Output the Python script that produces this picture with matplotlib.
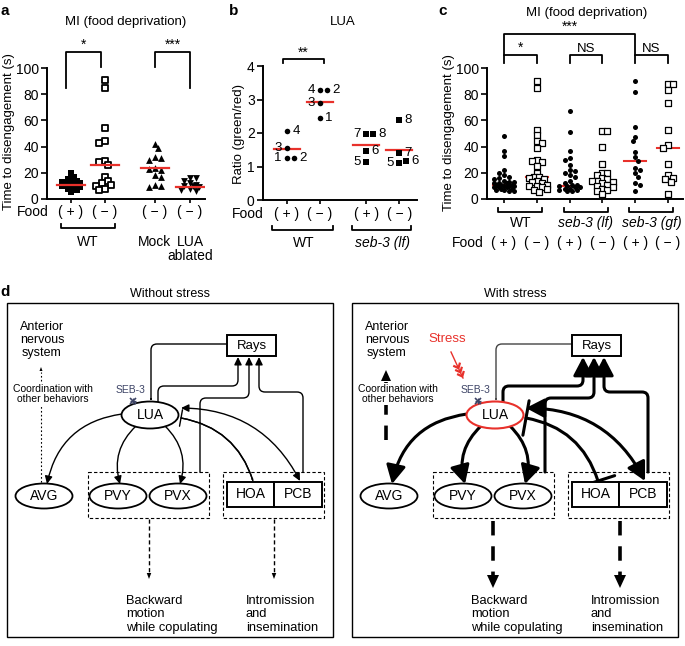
import numpy as np
import matplotlib
matplotlib.use("Agg")
import matplotlib.pyplot as plt
import matplotlib.transforms as mtransforms
from matplotlib.patches import Ellipse, Rectangle, FancyArrowPatch
from matplotlib.path import Path

plt.rcParams['font.family'] = ['Liberation Sans', 'DejaVu Sans']

W, H = 685, 646
RED = '#e8312b'

# ---------------- data: panel a (time to disengagement, s)
a_wt_fed = [20, 17, 15, 14, 13, 12, 12, 12, 11, 11, 11, 10, 10, 10, 9, 9, 8, 7, 5]
a_wt_starved = [91, 85, 54, 44, 43, 29, 28, 26, 17, 14, 12, 11, 10, 8, 7]
a_mock = [42, 39, 32, 31, 30, 24, 23, 22, 18, 17, 11, 10, 9]
a_ablated = [16, 16, 14, 12, 11, 10, 10, 9, 8, 7, 6]
a_medians = [11, 26, 24, 9.5]
a_food = ['( + )', '( \u2212 )', '( \u2212 )', '( \u2212 )']

# ---------------- data: panel b (LUA ratio green/red, numbered animals)
b_wt_fed = [2.07, 1.54, 1.24, 1.24]
b_wt_starved = [3.27, 3.27, 2.89, 2.45]
b_lf_fed = [1.98, 1.98, 1.46, 1.12]
b_lf_starved = [2.38, 1.39, 1.10, 1.17]
b_ids = [[4, 3, 1, 2], [4, 2, 3, 1], [7, 8, 6, 5], [8, 7, 5, 6]]
b_id_side = [['r', 'l', 'l', 'r'], ['l', 'r', 'l', 'r'],
             ['l', 'r', 'r', 'l'], ['r', 'r', 'l', 'r']]
b_means = [1.52, 2.93, 1.63, 1.49]
b_food = ['( + )', '( \u2212 )', '( + )', '( \u2212 )']

# ---------------- data: panel c (time to disengagement, s)
c_wt_fed = [48, 37, 33, 22, 20, 18, 17, 16, 15, 14, 13, 13, 12, 12, 12, 11, 11, 11,
            10, 10, 10, 9, 9, 9, 8, 8, 7, 7, 6, 6]
c_wt_starved = [90, 85, 53, 49, 44, 43, 39, 30, 29, 28, 25, 20, 17, 17, 16, 15, 14,
                13, 12, 11, 10, 10, 9, 8, 7, 5]
c_lf_fed = [67, 51, 37, 31, 30, 26, 22, 21, 20, 18, 17, 14, 12, 11, 11, 10, 10, 9, 9,
            8, 8, 7, 7, 6, 6]
c_lf_starved = [52, 52, 40, 27, 20, 20, 18, 16, 15, 14, 14, 13, 12, 11, 10, 9, 8, 7, 6, 4]
c_gf_fed = [90, 82, 55, 47, 44, 36, 32, 29, 24, 22, 20, 17, 12, 11, 6]
c_gf_starved = [88, 88, 83, 73, 53, 41, 39, 27, 18, 16, 15, 13, 4]
c_medians = [11, 17, 10, 14, 29, 39]
c_food = ['( + )', '( \u2212 )'] * 3
c_strains = ['WT', 'seb-3 (lf)', 'seb-3 (gf)']

fig = plt.figure(figsize=(W / 100, H / 100), dpi=100)
PX = mtransforms.Affine2D().scale(1 / W, -1 / H).translate(0, 1) + fig.transFigure

# full-figure axes in pixel units for the schematic and free text
dg = fig.add_axes([0, 0, 1, 1])
dg.set_xlim(0, W)
dg.set_ylim(H, 0)
dg.axis('off')


def px_axes(l, t, r, b):
    return fig.add_axes([l / W, 1 - b / H, (r - l) / W, (b - t) / H])


def style(ax):
    for s in ['top', 'right']:
        ax.spines[s].set_visible(False)
    for s in ['left', 'bottom']:
        ax.spines[s].set_linewidth(1.4)
    ax.tick_params(width=1.2, length=4, labelsize=10, pad=2)
    ax.tick_params(axis='x', length=3, labelbottom=False)
    ax.patch.set_alpha(0)


def under(ax):
    # x in data units, y in figure pixels (top = 0)
    return mtransforms.blended_transform_factory(ax.transData, PX)


def swarm(ax, x0, vals, size, one_sided=False, max_px=14):
    # simple beeswarm: place each point at the nearest free horizontal slot,
    # never further than max_px from the group centre (overlap allowed then)
    pts = ax.transData.transform(np.column_stack([np.full(len(vals), float(x0)), vals]))
    ppu = ax.transData.transform((1, 0))[0] - ax.transData.transform((0, 0))[0]
    step = size if one_sided else size * 0.55
    placed, offs = [], []
    for i, (px, py) in enumerate(pts):
        cands = [0.0]
        k = 1
        while k * step <= max_px:
            if one_sided:
                cands.append(k * step)
            else:
                s = 1 if i % 2 else -1
                cands += [s * k * step, -s * k * step]
            k += 1
        best, best_d = None, -1
        for c in cands:
            d = min([np.hypot(px + c - qx, py - qy) for qx, qy in placed] or [1e9])
            if d >= size * 0.9:
                best = c
                break
            if d > best_d:
                best, best_d = c, d
        placed.append((px + best, py))
        offs.append(best / ppu)
    return np.array(offs)


def bracket(ax, x1, x2, ytop, y1, y2, label, fs=10):
    ax.plot([x1, x1, x2, x2], [y1, ytop, ytop, y2], color='k', lw=1.3, clip_on=False)
    ax.text((x1 + x2) / 2, ytop, label, ha='center', va='bottom', fontsize=fs)


def under_bracket(ax, x1, x2, y, tick=4):
    ax.plot([x1, x1, x2, x2], [y - tick, y, y, y - tick], color='k', lw=1.3,
            transform=under(ax), clip_on=False)


def ftext(x, y, s, **kw):
    kw.setdefault('ha', 'center')
    kw.setdefault('va', 'center')
    kw.setdefault('fontsize', 10)
    dg.text(x, y, s, **kw)


# ================= panel a
ax = px_axes(47, 68, 205, 199)
a_pos = [1, 2, 3.47, 4.5]
ax.set_xlim(1 - 24 / 34, 1 + 134 / 34)
ax.set_ylim(0, 100)
style(ax)
ax.set_xticks(a_pos)
ax.set_yticks(range(0, 101, 20))
a_styles = [dict(marker='s', s=20, c='k', lw=0),
            dict(marker='s', s=20, facecolors='white', edgecolors='k', lw=1.3),
            dict(marker='^', s=24, c='k', lw=0),
            dict(marker='v', s=24, c='k', lw=0)]
for p, vals, kw in zip(a_pos, [a_wt_fed, a_wt_starved, a_mock, a_ablated], a_styles):
    offs = swarm(ax, p, vals, 5.5, max_px=12)
    ax.scatter(p + offs, vals, zorder=3, clip_on=False, **kw)
for p, m in zip(a_pos, a_medians):
    ax.plot([p - 0.42, p + 0.42], [m, m], color=RED, lw=1.6, zorder=4)
ftext(9, 132, 'Time to disengagement (s)', fontsize=9.5, rotation=90)
bracket(ax, a_pos[0] - 0.15, a_pos[1] - 0.12, 112, 85, 101, '*')
bracket(ax, a_pos[2], a_pos[3], 112, 101, 85, '***')
tr = under(ax)
for p, lab in zip(a_pos, a_food):
    ax.text(p, 212, lab, transform=tr, ha='center', va='center', fontsize=10)
ftext(33, 212, 'Food')
under_bracket(ax, a_pos[0] - 0.28, a_pos[1] + 0.29, 228)
ax.text(1.5, 242, 'WT', transform=tr, ha='center', va='center', fontsize=10)
ax.text(a_pos[2], 242, 'Mock', transform=tr, ha='center', va='center', fontsize=10)
ax.text(a_pos[3], 242, 'LUA', transform=tr, ha='center', va='center', fontsize=10)
ax.text(a_pos[3], 256, 'ablated', transform=tr, ha='center', va='center', fontsize=10)
ftext(126, 22, 'MI (food deprivation)', fontsize=9.5)
ftext(5, 11, 'a', fontsize=11, fontweight='bold')

# ================= panel b
ax = px_axes(263, 66, 417, 200)
b_pos = [1, 2, 3.4, 4.4]
ax.set_xlim(1 - 24 / 33, 1 + 130 / 33)
ax.set_ylim(0, 4)
style(ax)
ax.set_xticks(b_pos)
ax.set_yticks(range(0, 5))
b_groups = [b_wt_fed, b_wt_starved, b_lf_fed, b_lf_starved]
for g, (p, vals) in enumerate(zip(b_pos, b_groups)):
    offs = swarm(ax, p, vals, 7.0, one_sided=True)
    mk = 'o' if g < 2 else 's'
    ax.scatter(p + offs, vals, marker=mk, s=16 if mk == 'o' else 15, c='k', lw=0,
               zorder=3)
    for x, v, n, side in zip(p + offs, vals, b_ids[g], b_id_side[g]):
        if side == 'r':
            ax.text(x + 0.16, v, str(n), ha='left', va='center', fontsize=9.5)
        else:
            ax.text(x - 0.16, v, str(n), ha='right', va='center', fontsize=9.5)
for p, m in zip(b_pos, b_means):
    ax.plot([p - 0.4, p + 0.4], [m, m], color=RED, lw=1.6, zorder=2)
ftext(239, 134, 'Ratio (green/red)', fontsize=9.5, rotation=90)
bracket(ax, b_pos[0] - 0.12, b_pos[1] + 0.12, 4.2, 4.08, 4.08, '**')
tr = under(ax)
for p, lab in zip(b_pos, b_food):
    ax.text(p, 214, lab, transform=tr, ha='center', va='center', fontsize=10)
ftext(248, 214, 'Food')
under_bracket(ax, b_pos[0] - 0.45, b_pos[1] + 0.38, 230)
under_bracket(ax, b_pos[2] - 0.42, b_pos[3] + 0.35, 230)
ax.text((b_pos[0] + b_pos[1]) / 2, 243, 'WT', transform=tr, ha='center', va='center',
        fontsize=10)
ax.text((b_pos[2] + b_pos[3]) / 2, 243, 'seb-3 (lf)', transform=tr, ha='center',
        va='center', fontsize=10, fontstyle='italic')
ftext(343, 22, 'LUA', fontsize=9.5)
ftext(234, 11, 'b', fontsize=11, fontweight='bold')

# ================= panel c
ax = px_axes(487, 68, 683, 199)
c_pos = [1, 2, 3, 4, 5, 6]
ax.set_xlim(1 - 17 / 32.8, 1 + 179 / 32.8)
ax.set_ylim(0, 100)
style(ax)
ax.set_xticks(c_pos)
ax.set_yticks(range(0, 101, 20))
c_groups = [c_wt_fed, c_wt_starved, c_lf_fed, c_lf_starved, c_gf_fed, c_gf_starved]
for g, (p, vals) in enumerate(zip(c_pos, c_groups)):
    offs = swarm(ax, p, vals, 4.6, max_px=11)
    if g % 2 == 0:
        ax.scatter(p + offs, vals, marker='o', s=13, c='k', lw=0, zorder=3,
                   clip_on=False)
    else:
        ax.scatter(p + offs, vals, marker='s', s=13, facecolors='white',
                   edgecolors='k', lw=0.9, zorder=3, clip_on=False)
for p, m in zip(c_pos, c_medians):
    ax.plot([p - 0.33, p + 0.33], [m, m], color=RED, lw=1.5, zorder=2.5)
ftext(449, 133, 'Time to disengagement (s)', fontsize=9.5, rotation=90)
ax.plot([c_pos[0], c_pos[0], c_pos[4], c_pos[4]], [110, 126, 126, 110], color='k',
        lw=1.3, clip_on=False)
ax.text((c_pos[0] + c_pos[4]) / 2, 126, '***', ha='center', va='bottom', fontsize=10)
bracket(ax, c_pos[0], c_pos[1], 110, 104, 104, '*')
bracket(ax, c_pos[2], c_pos[3], 110, 104, 104, 'NS', fs=9.5)
bracket(ax, c_pos[4], c_pos[5], 110, 104, 104, 'NS', fs=9.5)
tr = under(ax)
for k, name in enumerate(c_strains):
    x1, x2 = c_pos[2 * k], c_pos[2 * k + 1]
    under_bracket(ax, x1 - 0.18, x2 + 0.16, 212)
    ax.text((x1 + x2) / 2, 223, name, transform=tr, ha='center', va='center',
            fontsize=10, fontstyle='normal' if k == 0 else 'italic')
for p, lab in zip(c_pos, c_food):
    ax.text(p, 243, lab, transform=tr, ha='center', va='center', fontsize=10)
ftext(468, 243, 'Food')
ftext(587, 13, 'MI (food deprivation)', fontsize=9.5)
ftext(443, 11, 'c', fontsize=11, fontweight='bold')


# ================= panel d: circuit schematic
def rpath(pts, r=6):
    verts = [pts[0]]
    codes = [Path.MOVETO]
    for i in range(1, len(pts) - 1):
        p0, p1, p2 = (np.array(q, float) for q in pts[i - 1:i + 2])
        d1 = (p1 - p0) / np.linalg.norm(p1 - p0)
        d2 = (p2 - p1) / np.linalg.norm(p2 - p1)
        verts += [tuple(p1 - d1 * r), tuple(p1), tuple(p1 + d2 * r)]
        codes += [Path.LINETO, Path.CURVE3, Path.CURVE3]
    verts.append(pts[-1])
    codes.append(Path.LINETO)
    return Path(verts, codes)


def head(ax, tip, direction, length, width, color='k'):
    d = np.array(direction, float)
    d /= np.linalg.norm(d)
    n = np.array([-d[1], d[0]])
    t = np.array(tip, float)
    base = t - d * length
    poly = np.array([t, base + n * width / 2, base - n * width / 2])
    ax.fill(poly[:, 0], poly[:, 1], color=color, lw=0, zorder=4)


def draw_net(ax, dx, stressed):
    X = lambda x: x + dx
    lw = 2.2 if stressed else 1.0
    ms = 14 if stressed else 10
    hs = ("-|>,head_length=0.8,head_width=0.42" if stressed
          else "-|>,head_length=0.45,head_width=0.22")
    ax.add_patch(Rectangle((X(7), 303), 326, 334, fill=False, lw=1.0, ec='k'))
    ax.text(X(170), 294, 'With stress' if stressed else 'Without stress',
            ha='center', va='center', fontsize=9)

    # nodes
    lua = (X(150), 415)
    ax.add_patch(Ellipse(lua, 57, 27, fc='white', ec=RED if stressed else 'k',
                         lw=1.5 if stressed else 1.3, zorder=3))
    ax.text(*lua, 'LUA', ha='center', va='center', fontsize=10, zorder=5)
    for name, cx in [('AVG', X(44)), ('PVY', X(118)), ('PVX', X(178))]:
        ax.add_patch(Ellipse((cx, 496), 57, 25, fc='white', ec='k', lw=1.3, zorder=3))
        ax.text(cx, 496, name, ha='center', va='center', fontsize=10, zorder=5)
    for name, x0, x1 in [('HOA', X(227), X(274)), ('PCB', X(274), X(322))]:
        ax.add_patch(Rectangle((x0, 482), x1 - x0, 25, fc='white', ec='k', lw=1.4,
                               zorder=3))
        ax.text((x0 + x1) / 2, 494.5, name, ha='center', va='center', fontsize=10,
                zorder=5)
    ax.add_patch(Rectangle((X(227), 335), 49, 21, fc='white', ec='k', lw=1.4, zorder=3))
    ax.text(X(251.5), 345.5, 'Rays', ha='center', va='center', fontsize=9.5, zorder=5)
    for x0, x1 in [(X(88), X(209)), (X(223), X(324))]:
        ax.add_patch(Rectangle((x0, 472), x1 - x0, 46, fill=False, ec='k', lw=0.8,
                               ls=(0, (3, 2)), zorder=2))

    # texts
    ax.text(X(42), 340, 'Anterior\nnervous\nsystem', ha='center', va='center',
            fontsize=9, linespacing=1.15)
    ax.text(X(53), 394, 'Coordination with\nother behaviors', ha='center', va='center',
            fontsize=7.5, linespacing=1.1, zorder=5,
            bbox=dict(fc='white', ec='none', pad=0.5))
    ax.text(X(126), 595, 'Backward\nmotion\nwhile copulating', ha='left', va='top',
            fontsize=9.3, linespacing=1.15)
    ax.text(X(246), 595, 'Intromission\nand\ninsemination', ha='left', va='top',
            fontsize=9.3, linespacing=1.15)
    ax.text(X(131), 390, 'SEB-3', ha='center', va='center', fontsize=7.5,
            color='#3d4466', zorder=6)
    ax.plot([X(133)], [401], marker='x', ms=4, mew=1.2, color='#3d4466', zorder=6)
    ax.plot([X(133)], [401], marker='+', ms=5, mew=0.9, color='#3d4466', zorder=6)

    # Rays -> LUA (always thin)
    ax.add_patch(FancyArrowPatch(path=rpath([(X(227), 344), (X(151), 344),
                                             (X(151), 401)]),
                 arrowstyle="-|>,head_length=0.45,head_width=0.22", lw=1.0,
                 color='#444444' if stressed else 'k', zorder=2))
    # feedback to Rays
    for pts in [[(X(158), 402), (X(158), 386), (X(238), 386), (X(238), 357)],
                [(X(200), 472), (X(200), 398), (X(249), 398), (X(249), 357)],
                [(X(303), 472), (X(303), 392), (X(259), 392), (X(259), 357)]]:
        ax.add_patch(FancyArrowPatch(path=rpath(pts), arrowstyle=hs, lw=lw,
                                     mutation_scale=ms, color='k', zorder=2))
    # LUA outputs
    for a, b, rad in [((X(122), 414), (X(47), 484), 0.35),
                      ((X(136), 426), (X(120), 484), 0.3),
                      ((X(165), 426), (X(180), 484), -0.3)]:
        ax.add_patch(FancyArrowPatch(a, b, connectionstyle=f"arc3,rad={rad}",
                                     arrowstyle=hs, lw=lw, color='k',
                                     mutation_scale=ms,
                                     shrinkA=0, shrinkB=0, zorder=2))
    # LUA <-> PCB
    both = ("<|-|>,head_length=0.8,head_width=0.42" if stressed
            else "<|-|>,head_length=0.45,head_width=0.22")
    ax.add_patch(FancyArrowPatch((X(181), 408), (X(300), 481),
                                 connectionstyle="arc3,rad=-0.3", arrowstyle=both,
                                 lw=lw, color='k', mutation_scale=ms,
                                 shrinkA=0, shrinkB=0, zorder=2))
    # LUA -| HOA
    bw = 0.9 if stressed else 0.6
    ax.add_patch(FancyArrowPatch((X(181), 418), (X(253), 481),
                                 connectionstyle="arc3,rad=-0.3",
                                 arrowstyle=f"|-|,widthA={bw},widthB={bw}" if stressed
                                 else f"]-,widthA={bw},lengthA=0",
                                 lw=lw, color='k', mutation_scale=ms,
                                 shrinkA=0, shrinkB=0, zorder=2))
    if not stressed:
        ax.add_patch(FancyArrowPatch((X(181), 418), (X(253), 481),
                                     connectionstyle="arc3,rad=-0.3", arrowstyle=hs,
                                     lw=lw, color='k', shrinkA=0, shrinkB=0, zorder=2))

    # dashed downstream arrows
    if stressed:
        hl, hw, dlw, dash = 13, 12, 2.6, (0, (4, 3))
        for x in [X(148), X(275)]:
            ax.plot([x, x], [521, 575], color='k', lw=dlw, ls=dash)
            head(ax, (x, 588), (0, 1), hl, hw)
        ax.plot([X(41), X(41)], [440, 382], color='k', lw=dlw, ls=dash)
        head(ax, (X(41), 370), (0, -1), 11, 10)
    else:
        for x in [X(149), X(274)]:
            ax.plot([x, x], [519, 573], color='k', lw=1.0, ls=(0, (3, 2)))
            head(ax, (x, 579), (0, 1), 6, 4.5)
        ax.plot([X(41), X(41)], [486, 372], color='k', lw=0.8, ls=(0, (1.5, 2)))
        head(ax, (X(41), 367), (0, -1), 4, 3)

    if stressed:
        ax.text(X(102), 339, 'Stress', ha='center', va='center', fontsize=9.5, color=RED)
        p0 = np.array([X(106), 352.0])
        p1 = np.array([X(118), 378.0])
        ax.plot([p0[0], p1[0]], [p0[1], p1[1]], color=RED, lw=1.0)
        d = (p1 - p0) / np.linalg.norm(p1 - p0)
        n = np.array([-d[1], d[0]])
        for t in [0.62, 0.78, 0.94]:
            c = p0 + (p1 - p0) * t
            q = np.array([c - d * 3.5 + n * 3, c, c - d * 3.5 - n * 3])
            ax.plot(q[:, 0], q[:, 1], color=RED, lw=1.6)


draw_net(dg, 0, False)
draw_net(dg, 345, True)
ftext(5, 292, 'd', fontsize=11, fontweight='bold')

fig.savefig('out.png', dpi=100)
